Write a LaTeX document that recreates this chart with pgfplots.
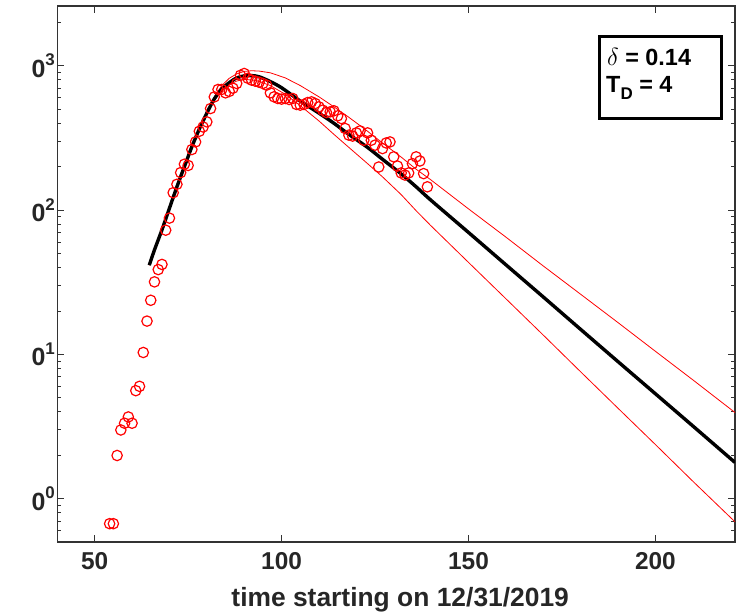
\documentclass[border=0pt]{standalone}
\usepackage{fontspec}
\setmainfont{Liberation Sans}
\usepackage{pgfplots}
\pgfplotsset{compat=1.18}
\pgfplotstableread{
x y
54 0.67
55 0.67
56 1.99
57 2.99
58 3.33
59 3.68
60 3.33
61 5.6
62 6.0
63 10.3
64 17
65 23.7
66 31.8
67 38.7
68 42
69 72.6
70 88
71 132
72 151
73 182
74 208
75 204
76 263
77 297
78 352
79 377
80 409
81 506
82 609
83 686
84 686
85 650
86 665
87 700
88 755
89 860
90 885
91 820
92 796
93 783
94 770
95 755
96 735
97 650
98 610
99 594
100 588
101 594
102 585
103 594
104 540
105 534
106 540
107 557
108 563
109 548
110 520
111 493
112 475
113 480
114 488
115 450
116 431
117 368
118 331
119 326
120 343
121 354
122 305
123 343
124 305
125 282
126 199
127 267
128 292
129 297
130 234
131 202
132 181
133 175
134 181
135 210
136 234
137 219
138 179
139 145
}\datatab
\pgfplotstableread{
x y
64.6 41.5
66 53
68 73
70 103
72 145
74 200
76 275
78 365
80 470
82 590
84 690
86 765
88 825
90 852
92 856
94 840
97 778
100 705
105 570
110 470
114 400
118 335
123 272
127 225
132 178
136 145
139.8 118
150 70
160 41.8
170 25
180 14.9
190 8.9
200 5.33
210 3.19
221.3 1.78
}\fittab
\pgfplotstableread{
x y
64.6 41.5
66 53
68 73
70 103
72 145
74 200
76 275
78 367
80 480
82 610
84 730
86 820
88 880
90 915
92 925
94 920
97 895
101 825
105 730
110 610
114 520
118 440
123 352
127 292
132 233
136 192
139.8 163
150 102
160 65
170 41
180 26.1
190 16.6
200 10.5
210 6.66
221.3 3.95
}\uppertab
\pgfplotstableread{
x y
64.6 41.5
66 53
68 73
70 103
72 145
74 200
76 273
78 362
80 462
82 575
84 670
86 740
88 785
90 805
92 800
94 780
97 730
101 635
105 530
110 415
114 335
118 272
123 210
127 170
132 128
136 99
139.8 78.6
150 43.4
160 24.3
170 13.6
180 7.57
190 4.23
200 2.37
210 1.32
221.3 0.69
}\lowertab
\newcommand{\ylab}[1]{0\raisebox{11.5bp}{\fontsize{17}{17}\selectfont #1}}
\begin{document}
\begin{tikzpicture}
\useasboundingbox (-57.3bp,-71bp) rectangle (683.7bp,542bp);
\begin{axis}[
  at={(0,0)}, anchor=south west,
  scale only axis, width=677.7bp, height=536bp,
  xmin=40, xmax=221.3,
  ymode=log, ymin=0.5, ymax=2600,
  xtick={50,100,150,200},
  ytick={1,10,100,1000},
  yticklabels={\ylab{0},\ylab{1},\ylab{2},\ylab{3}},
  minor ytick={0.5,0.6,0.7,0.8,0.9,2,3,4,5,6,7,8,9,20,30,40,50,60,70,80,90,200,300,400,500,600,700,800,900,2000},
  tick align=inside,
  major tick length=7bp, minor tick length=4bp,
  axis line style={line width=1.1bp, color=black!80},
  every tick/.style={color=black!80, line width=0.8bp},
  ticklabel style={font=\bfseries\fontsize{24.5}{24.5}\selectfont, color=black!85},
  yticklabel style={font=\bfseries\fontsize{25}{25}\selectfont, xshift=1bp},
  xticklabel style={yshift=-7bp},
  /pgf/number format/assume math mode=true,
  xlabel={time starting on 12/31/2019},
  xlabel style={font=\bfseries\fontsize{26.5}{26.5}\selectfont, color=black!85,
    at={(axis description cs:0.506,0)}, anchor=base, yshift=-64.5bp},
]
\addplot[red, line width=0.8bp] table[x=x,y=y] {\uppertab};
\addplot[red, line width=0.8bp] table[x=x,y=y] {\lowertab};
\addplot[only marks, mark=o, red, mark size=5.2bp, line width=1.2bp] table[x=x,y=y] {\datatab};
\addplot[black, line width=3.4bp, smooth, tension=0.5] table[x=x,y=y] {\fittab};
\draw[line width=2.5bp, fill=white] (rel axis cs:0.8001,0.7897) rectangle (rel axis cs:0.9801,0.9435);
\node[anchor=base west, inner sep=0pt, font=\bfseries\fontsize{23.5}{23.5}\selectfont] at (rel axis cs:0.8110,0.8899) {$\delta$ = 0.14};
\node[anchor=base west, inner sep=0pt, font=\bfseries\fontsize{23.5}{23.5}\selectfont] at (rel axis cs:0.8097,0.8382) {T\raisebox{-6.5bp}{\fontsize{17}{17}\selectfont D} = 4};
\end{axis}
\end{tikzpicture}
\end{document}
